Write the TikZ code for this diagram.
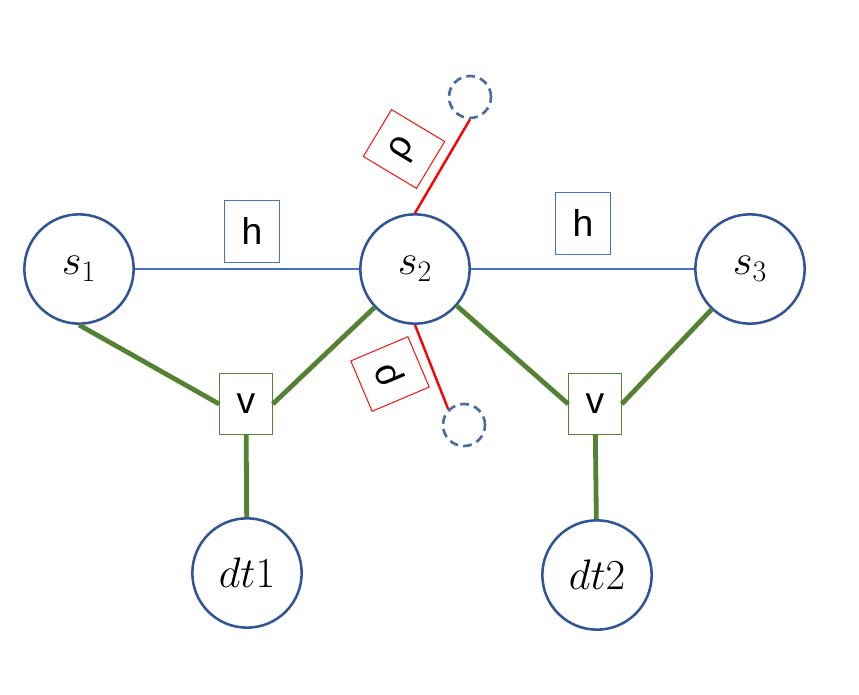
\RequirePackage{fix-cm}
\documentclass[tikz,border=0pt]{standalone}
\usepackage{fontspec}
\setsansfont{Liberation Sans}
\usetikzlibrary{positioning}
\definecolor{nodeblue}{HTML}{2F5597}
\definecolor{lineblue}{HTML}{4472C4}
\definecolor{vgreen}{HTML}{548235}
\definecolor{dashblue}{HTML}{4A6CA5}

\begin{document}
\begin{tikzpicture}[x=0.75pt, y=-0.75pt,
    var/.style={circle, draw=nodeblue, line width=1.9pt, minimum size=82pt, inner sep=0pt, font=\fontsize{32}{34}\selectfont},
    hbox/.style={rectangle, draw=lineblue, line width=0.7pt, minimum width=41pt, minimum height=46.5pt, inner sep=0pt, font=\sffamily\fontsize{28}{30}\selectfont},
    vbox/.style={hbox, draw=vgreen, minimum width=39.5pt, minimum height=45.5pt},
    rbox/.style={hbox, draw=red},
    ghost/.style={circle, draw=dashblue, line width=2pt, dash pattern=on 6.5pt off 4pt, minimum size=31.5pt, inner sep=0pt},
    hline/.style={draw=lineblue, line width=1.4pt},
    vline/.style={draw=vgreen, line width=3.6pt},
    rline/.style={draw=red, line width=1.8pt}]
    \useasboundingbox (0,0) rectangle (859,695);

    % variables
    \node[var] (s1) at (79,269) {$s_1$};
    \node[var] (s2) at (415,269) {$s_2$};
    \node[var] (s3) at (750,269) {$s_3$};
    \node[var] (dt1) at (247,573) {$dt1$};
    \node[var] (dt2) at (597,575) {$dt2$};

    % factors
    \node[hbox] (h1) at (252,231) {h};
    \node[hbox] (h2) at (583,223) {h};
    \node[vbox] (v1) at (246,404) {v};
    \node[vbox] (v2) at (595,404) {v};
    \node[rbox, rotate=59] (r1) at (404,149) {ρ};
    \node[rbox, rotate=113] (r2) at (390,374) {ρ};

    % open ends
    \node[ghost] (g1) at (470,97) {};
    \node[ghost] (g2) at (464,425) {};

    \path[hline] (s1) edge (s2)
        (s2) edge (s3);
    \path[vline] (s1.south) edge (v1.west)
        (s2) edge (v1.east)
        (s2) edge (v2.west)
        (s3) edge (v2.east)
        (v1) edge (dt1)
        (v2) edge (dt2);
    \path[rline] (s2.north) edge (g1.south)
        (s2.south) edge (g2.135);
\end{tikzpicture}
\end{document}
